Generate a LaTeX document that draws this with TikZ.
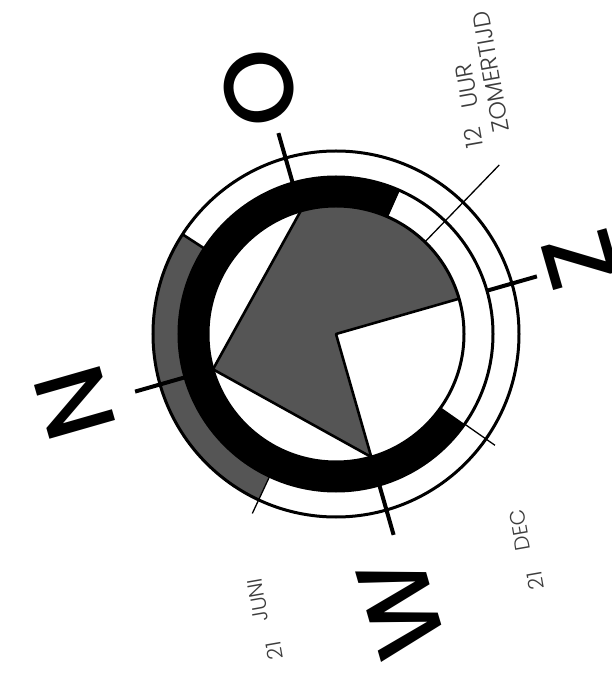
\documentclass[tikz,border=0pt]{standalone}
\usepackage{fontspec}
\setmainfont{Poppins}
\IfFontExistsTF{Poppins Light}{\newfontfamily\thinfont{Poppins Light}}{\newfontfamily\thinfont{Poppins}}
\IfFontExistsTF{Poppins Medium}{\newfontfamily\boldishfont{Poppins Medium}}{\newfontfamily\boldishfont{Poppins}}
\definecolor{piegray}{RGB}{85,85,85}
\definecolor{txtgray}{RGB}{60,60,60}
\begin{document}
\begin{tikzpicture}[x=1pt,y=1pt,
  ring/.style={line width=3pt},
  axisline/.style={line width=4pt},
  thintick/.style={line width=1.3pt},
  pieedge/.style={line width=2.6pt, line join=round},
  bigletter/.style={font=\boldishfont\fontsize{98}{98}\selectfont, inner sep=0pt, rotate=106},
  smalltext/.style={font=\thinfont\fontsize{21}{21}\selectfont, text=txtgray, inner sep=0pt, rotate=100},
  largetext/.style={smalltext, font=\thinfont\fontsize{23.5}{23.5}\selectfont}]
\useasboundingbox (-336,-345) rectangle (276,334);
\fill[white] (-336,-345) rectangle (276,334);
% gray outer band
\fill[piegray] (147:157) arc[start angle=147,end angle=245,radius=157] -- (245:183) arc[start angle=245,end angle=147,radius=183] -- cycle;
% black band
\fill[black] (66:128) arc[start angle=66,end angle=325,radius=128] -- (325:157) arc[start angle=325,end angle=66,radius=157] -- cycle;
% pie
\fill[piegray] (0,0) -- (16:128) arc[start angle=16,end angle=106,radius=128] -- (196:128) -- (286:128) -- cycle;
\draw[pieedge] (16:128) -- (0,0) -- (286:128) -- (196:128) -- (106:128);
% circles
\draw[ring] (0,0) circle[radius=128];
\draw[ring] (0,0) circle[radius=157];
\draw[ring] (0,0) circle[radius=183];
% band boundary and ticks
\draw[pieedge] (147:157) -- (147:183);
\draw[thintick] (245:157) -- (245:198);
\draw[thintick] (325:157) -- (325:194);
\draw[thintick] (46:128) -- (46:235);
% compass axes
\foreach \a in {16,106,196,286} \draw[axisline] (\a:157) -- (\a:209);
% letters
\node[bigletter] (lO) at (-77,246) {O};
\node[bigletter] (lN) at (-261,-69) {N};
\node[bigletter] (lZ) at (244,74) {Z};
\node[bigletter] (lW) at (65,-274) {W};
% texts
\node[largetext] (t12) at (137,196) {12};
\node[largetext] (tuur) at (131,248) {UUR};
\node[largetext] (tzom) at (155,262) {ZOMERTIJD};
\node[smalltext] (tjuni) at (-78,-266) {JUNI};
\node[smalltext] (t21j) at (-62,-317) {21};
\node[smalltext] (tdec) at (184,-196) {DEC};
\node[smalltext] (t21d) at (199,-247) {21};
\end{tikzpicture}
\end{document}
